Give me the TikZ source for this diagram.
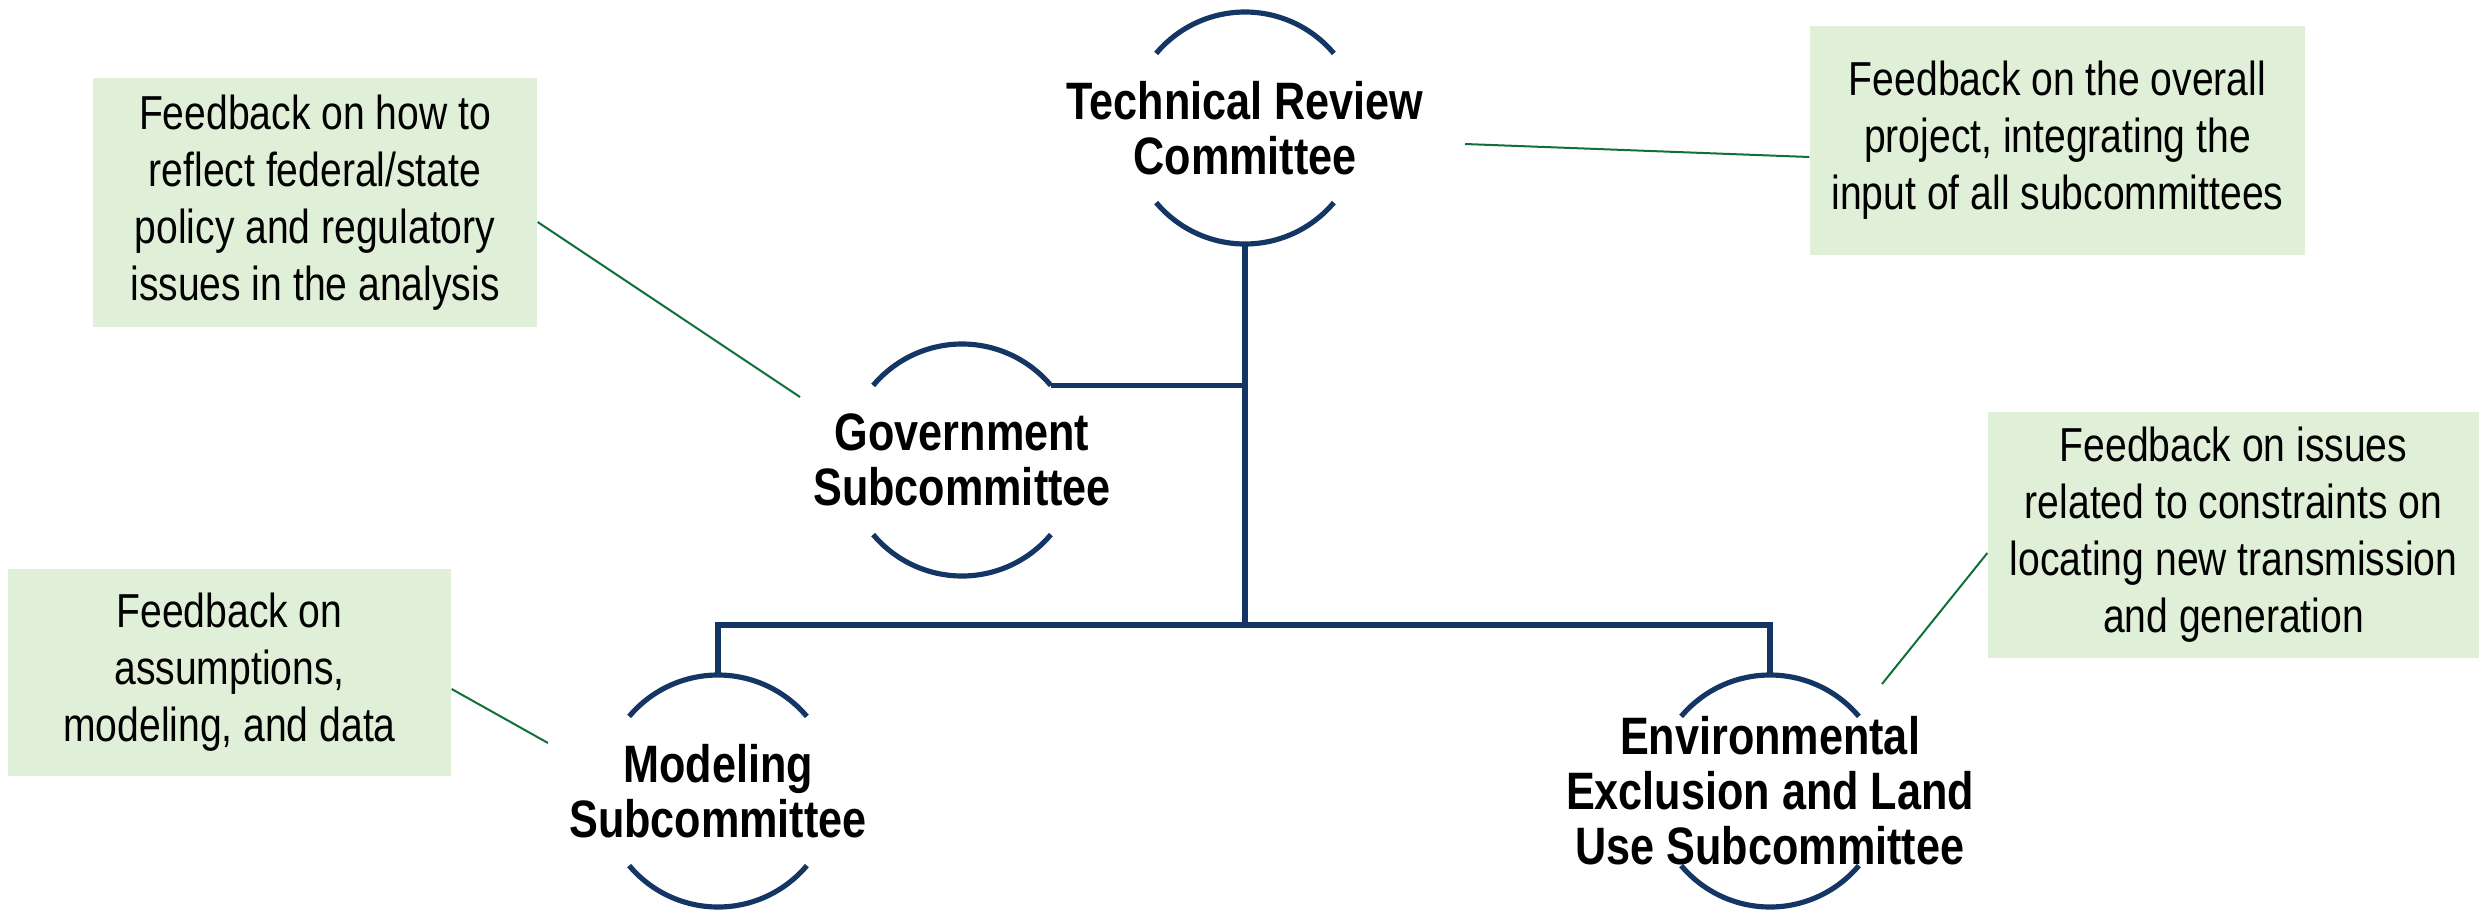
\documentclass[tikz,border=0pt]{standalone}
\usepackage{fontspec}
\setmainfont[FakeStretch=0.82]{Liberation Sans}
\usepackage{tikz}
\usetikzlibrary{calc}
\definecolor{ringnavy}{RGB}{20,54,100}
\definecolor{notegreen}{RGB}{224,239,216}
\definecolor{notegreenline}{RGB}{16,112,56}
\newcommand{\ringarcs}[1]{%
  \draw[spine] (#1.40) arc[start angle=40,end angle=140,radius=34.8pt];
  \draw[spine] (#1.220) arc[start angle=220,end angle=320,radius=34.8pt];}
\tikzset{
  committee/.style={circle,minimum size=69.6pt,inner sep=0pt,outer sep=0pt},
  ringtext/.style={align=center,font=\fontsize{15.8}{16.5}\selectfont\bfseries,inner sep=0pt},
  notebox/.style={fill=notegreen,align=center,font=\fontsize{14.3}{17.1}\selectfont,inner sep=0pt},
  spine/.style={draw=ringnavy,line width=1.55pt},
  callout/.style={draw=notegreenline,line width=0.6pt},
}

\begin{document}
\begin{tikzpicture}[x=0.3pt,y=-0.3pt]
  \useasboundingbox (0,0) rectangle (2479,913);
  % committees
  \node[committee,label={[ringtext]center:Technical Review\\Committee}] (trc) at (1245,128) {};
  \node[committee,label={[ringtext]center:Government\\Subcommittee}] (gov) at (962,460) {};
  \node[committee,label={[ringtext]center:Modeling\\Subcommittee}] (model) at (718,791) {};
  \node[committee,label={[ringtext]center:Environmental\\Exclusion and Land\\Use Subcommittee}] (envir) at (1770,791) {};
  \ringarcs{trc}
  \ringarcs{gov}
  \ringarcs{model}
  \ringarcs{envir}
  % feedback notes
  \node[notebox,minimum width=148.5pt,minimum height=68.7pt] (trcnote) at (2057.5,140.5)
    {Feedback on the overall\\project, integrating the\\input of all subcommittees};
  \node[notebox,minimum width=133.2pt,minimum height=74.7pt] (govnote) at (315,202.5)
    {Feedback on how to\\reflect federal/state\\policy and regulatory\\issues in the analysis};
  \node[notebox,minimum width=132.9pt,minimum height=62.1pt] (modelnote) at (229.5,672.5)
    {Feedback on\\assumptions,\\modeling, and data};
  \node[notebox,minimum width=147.3pt,minimum height=73.8pt] (envirnote) at (2233.5,535)
    {Feedback on issues\\related to constraints on\\locating new transmission\\and generation};
  % tree
  \coordinate (hub) at (1245,625);
  \draw[spine] (trc.south) -- (hub);
  \draw[spine] (gov.40) -- (gov.40 -| trc.south);
  \draw[spine] (model.north) -- (model.north |- hub) -- (envir.north |- hub) -- (envir.north);
  % callouts
  \coordinate (trctip) at (1465,144);
  \coordinate (govtip) at (800,397);
  \coordinate (modeltip) at (548,743);
  \coordinate (envirtip) at (1882,684);
  \draw[callout] (trctip) -- ([yshift=-4.95pt]trcnote.west);
  \draw[callout] (govtip) -- ([yshift=-5.85pt]govnote.east);
  \draw[callout] (modeltip) -- ([yshift=-4.95pt]modelnote.east);
  \draw[callout] (envirtip) -- ([yshift=-5.4pt]envirnote.west);
\end{tikzpicture}
\end{document}
